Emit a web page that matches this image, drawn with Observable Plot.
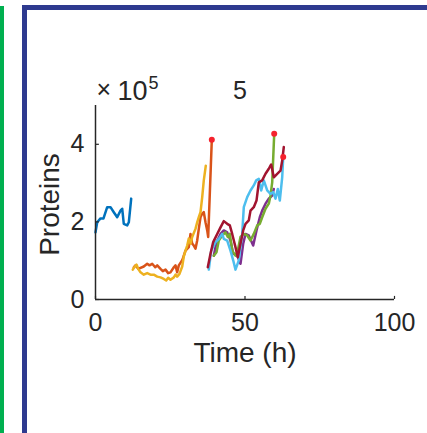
<!DOCTYPE html>
<html><head><meta charset="utf-8">
<script src="https://cdn.jsdelivr.net/npm/d3@7"></script>
<script src="https://cdn.jsdelivr.net/npm/@observablehq/plot@0.6"></script>
<style>
body{margin:0;background:#fff;}
#wrap{position:relative;width:427px;height:433px;overflow:hidden;background:#fff;}
.green{position:absolute;left:0;top:6px;width:4px;height:440px;background:#00b050;}
.blue{position:absolute;left:22px;top:5px;width:520px;height:520px;border-left:5px solid #2e3a8f;border-top:5px solid #2e3a8f;box-sizing:border-box;}
#chart{position:absolute;left:0;top:0;}
</style></head>
<body>
<div id="wrap"><div class="green"></div><div class="blue"></div><div id="chart"></div></div>
<script>
const titleText = "5";
const xLabel = "Time (h)";
const yLabel = "Proteins";
const xTicks = [0, 50, 100];
const yTicks = [0, 2, 4];

const blueT = [0,0.57,1.67,2.68,3.91,5.02,6.12,7.26,8.36,8.93,9.46,10.6,11.14,11.94];
const blueV = [1.73,1.99,2.09,2.09,2.38,2.38,2.25,2.12,2.29,2.34,1.95,1.91,1.99,2.60];

const orangeT = [12.81,13.38,14.28,16.15,17.29,18.06,18.96,19.97,20.64,21.74,22.51,23.41,24.31,25.08,26.19,26.76,27.32,27.86,29.0,30.1,31.2,31.77,32.34,32.88,33.44,34.01,34.55,35.12,35.69,36.22,36.79,37.36,37.69,38.9];
const orangeV = [0.83,0.88,0.79,0.85,0.92,0.88,0.92,0.83,0.88,0.79,0.73,0.77,0.68,0.70,0.83,0.88,0.70,0.88,1.01,1.26,1.35,1.69,1.44,1.39,1.31,1.52,1.82,2.12,2.21,2.25,1.99,1.78,1.61,4.12];

const yellowT = [12.47,13.14,13.71,14.28,15.05,16.15,17.29,18.39,19.5,20.64,21.74,22.84,23.65,24.31,25.08,26.19,26.76,27.32,28.09,29.0,29.53,30.1,30.67,31.2,31.77,32.34,33.44,34.01,34.55,35.12,35.69,36.22,36.89];
const yellowV = [0.77,0.85,0.90,0.79,0.70,0.64,0.68,0.64,0.64,0.59,0.57,0.53,0.49,0.56,0.51,0.57,0.64,0.59,0.66,0.85,1.11,1.26,1.39,1.57,1.44,1.61,1.82,1.99,2.12,2.25,2.64,3.07,3.45];

const purpleT = [39.57,40.47,41.81,42.91,44.05,45.15,46.05,47.39,48.49,49.4,50.17,51.27,52.74,53.85,54.95,55.75,56.86,57.96,59.1,59.63];
const purpleV = [1.13,1.48,1.69,1.78,1.73,1.52,1.18,1.13,0.92,1.44,1.69,1.65,1.39,1.78,2.12,2.29,2.47,2.60,2.68,2.85];

const greenT = [39.57,40.47,41.24,42.37,43.48,44.25,44.92,45.72,46.82,47.59,48.49,49.6,50.74,51.84,52.94,54.08,54.95,55.75,56.86,57.96,58.53,59.1,59.77];
const greenV = [1.13,1.22,1.52,1.65,1.73,1.61,1.69,1.26,1.13,1.26,1.61,1.69,1.65,1.52,1.69,1.91,1.95,2.12,2.34,2.47,2.68,3.02,4.27];

const lightBlueT = [37.89,38.7,40.13,41.24,42.37,42.91,44.05,45.15,46.05,46.82,47.93,49.06,49.6,50.74,51.84,52.94,53.75,54.62,55.42,56.29,57.42,58.53,59.43,60.2,60.97,61.64,62.44,62.78];
const lightBlueV = [0.77,1.26,1.48,1.56,1.69,1.56,1.52,1.26,1.01,0.77,1.01,1.69,2.38,2.64,2.81,2.94,3.07,3.11,2.81,3.07,2.81,2.72,2.77,2.60,2.85,2.55,3.15,3.67];

const darkRedT = [37.56,38.46,39.36,40.7,41.81,42.91,44.05,44.92,45.72,46.82,47.59,48.49,49.4,50.17,51.27,51.84,52.94,53.85,54.62,55.75,56.86,57.96,58.76,59.63,60.77,61.87,62.44,62.98];
const darkRedV = [0.83,1.18,1.48,1.69,1.86,2.02,1.95,1.91,1.69,1.35,1.09,1.44,1.78,1.95,2.04,2.29,2.38,2.55,3.02,3.07,3.24,3.37,3.48,3.15,3.24,3.32,3.58,3.93];

const dotT = [38.9, 59.77, 62.78];
const dotV = [4.12, 4.27, 3.67];

const series = [
  [blueT, blueV, "#0072BD"],
  [orangeT, orangeV, "#D95319"],
  [yellowT, yellowV, "#EDB120"],
  [purpleT, purpleV, "#7E2F8E"],
  [greenT, greenV, "#77AC30"],
  [lightBlueT, lightBlueV, "#4DBEEE"],
  [darkRedT, darkRedV, "#A2142F"]
];
const toRows = (T, V) => T.map((t, i) => ({t, v: V[i]}));
const axisColor = "#262626";
const fmt = d => String(d);

const chart = Plot.plot({
  width: 427, height: 433,
  marginLeft: 95, marginRight: 33, marginTop: 105, marginBottom: 134,
  style: {fontFamily: "Liberation Sans, Arial, sans-serif", background: "transparent", color: axisColor},
  x: {domain: [0, 100], ticks: xTicks, label: null},
  y: {domain: [0, 5], ticks: yTicks, label: null},
  marks: [
    ...series.map(([T, V, c]) => Plot.line(toRows(T, V), {x: "t", y: "v", stroke: c, strokeWidth: 2.5})),
    Plot.dot(toRows(dotT, dotV), {x: "t", y: "v", r: 3, fill: "#f5222d", stroke: "none"}),
    Plot.ruleX([0], {stroke: axisColor, strokeWidth: 1.5}),
    Plot.ruleY([0], {stroke: axisColor, strokeWidth: 1.5}),
    Plot.ruleY(yTicks, {x1: 0, x2: 1.3, stroke: axisColor, strokeWidth: 1.2}),
    Plot.ruleX(xTicks, {y1: 0, y2: 0.08, stroke: axisColor, strokeWidth: 1.2}),
    Plot.axisY({ticks: yTicks, tickFormat: fmt, tickSize: 0, tickPadding: 11, fontSize: 25, label: null, fill: axisColor}),
    Plot.axisX({ticks: xTicks, tickFormat: fmt, tickSize: 0, tickPadding: 14, fontSize: 25, label: null, fill: axisColor}),
    Plot.text([xLabel], {frameAnchor: "bottom", textAnchor: "middle", lineAnchor: "bottom", dy: 62, fontSize: 28, fill: axisColor}),
    Plot.text([yLabel], {frameAnchor: "left", textAnchor: "middle", lineAnchor: "bottom", rotate: -90, dx: -37, dy: 2, fontSize: 28, fill: axisColor}),
    Plot.text([titleText], {frameAnchor: "top", textAnchor: "middle", lineAnchor: "bottom", dx: -5, dy: -7, fontSize: 25, fill: axisColor}),
    Plot.text(["\u00d7"], {frameAnchor: "top-left", lineAnchor: "bottom", textAnchor: "start", dx: 1, dy: -8, fontSize: 25, fill: axisColor}),
    Plot.text(["10"], {frameAnchor: "top-left", lineAnchor: "bottom", textAnchor: "start", dx: 22, dy: -6, fontSize: 27, fill: axisColor}),
    Plot.text(["5"], {frameAnchor: "top-left", lineAnchor: "bottom", textAnchor: "start", dx: 53, dy: -17, fontSize: 18, fill: axisColor})
  ]
});
document.getElementById("chart").appendChild(chart);
</script>
</body></html>
